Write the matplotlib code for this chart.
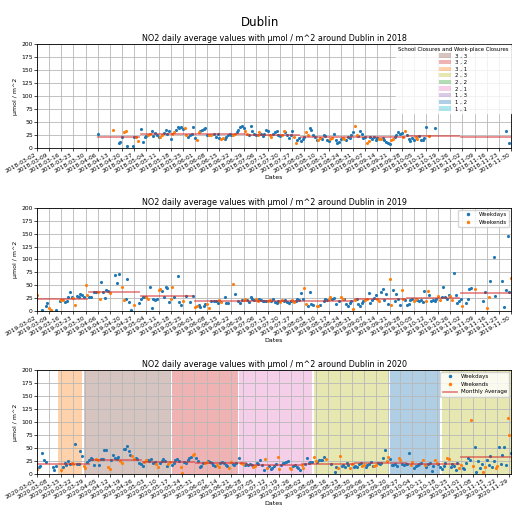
import numpy as np
import pandas as pd
import matplotlib
matplotlib.use('Agg')
import matplotlib.pyplot as plt
import matplotlib.dates as mdates
from matplotlib.patches import Patch

N = None

# daily NO2 values (umol / m^2), one entry per day, None = no data
no2_2018 = (
    [N] * 30  # Mar 2 - Mar 31
    + [N, N, N, N, N, 28, N, N, N, N, N, N, N, N, 35, N, N, 9, 12, 22, 30, 32, 5, N, N, 5, 22, 22, 14, N]
    + [36, 11, 22, 24, 26, 28, 32, 23, 29, 25, 22, 22, 25, 29, 35, 28, 32, 18, 28, 30, 35, 40, 38, 41, 36, 38, 26, 22, 25, 28, 40]
    + [20, 16, 30, 33, 35, 37, 38, 26, 25, 25, N, 27, 22, 27, 20, 18, 20, 18, 22, 25, 27, 25, 26, 27, 30, 35, 40, 42, 38, 33]
    + [28, 26, 42, 33, 28, 25, 26, 30, 27, 24, 28, 35, 32, 25, 22, 28, 30, 33, 26, 24, 26, 32, 30, 25, 20, 26, 32, 22, 10, 15, 20]
    + [14, 18, 22, 30, 26, 38, 35, 25, 22, 15, 16, 20, 18, 26, 24, 15, 14, 18, 20, 28, 16, 10, 12, 18, 20, 18, 15, 22, 20, 25, 30]
    + [42, 25, 24, 32, 28, 20, 22, 10, 14, 22, 18, 22, 15, 20, 17, 18, 20, 15, 12, 10, 7, 15, 18, 22, 25, 30, 28, 29, 22, 32]
    + [25, 18, 14, 20, 16, 22, 18, 24, 16, 15, 20, 40, N, 24, N, N, 38] + [N] * 14
    + [N] * 26 + [32, N, 9, N]
)
no2_2019 = (
    [32, N, N, 2, N, 10, 16, 6, 1, N, N, 2, N, 19, 21, 22, 18, 20, 28, 36, 27, 26, 11, 29, 28, 33, 31, 27, 50, 31]
    + [27, 27, N, 36, 36, 36, 24, 56, 36, 26, 40, 38, 35, N, N, 70, 55, 72, N, 46, 22, 23, 63, 18, 2, N, 11, N, N, 16]
    + [24, 27, 28, 27, 23, 47, 6, 24, 21, 23, 40, 42, 38, 28, 47, 44, 18, 24, 47, 28, N, 67, 18, 11, 20, N, 29, N, 18, N, 29]
    + [7, 9, 11, 8, N, 9, 14, 14, 6, 20, N, 20, 19, 16, 22, 18, N, 27, 16, 15, N, N, 52, 33, N, 20, 16, 22, 21, 23]
    + [21, 17, 28, 24, 21, 23, 20, 24, 21, 19, 20, 19, 20, 22, 20, 24, 18, 15, 20, 17, 22, 19, 21, 18, 16, 20, 22, 18, 20, 24, 22]
    + [34, 24, 44, 14, 9, 36, 14, 11, N, 9, 9, 11, N, 19, 23, 22, 24, 27, 23, 26, 14, N, 19, 27, 24, 23, 14, 9, 16, 20, 4]
    + [21, 23, 14, 9, 16, 20, 21, 24, 34, 16, 22, 26, 31, 24, 20, 36, 43, 22, 33, 14, 63, 12, 40, 20, 33, 24, 11, 40, 23, 22]
    + [11, 14, 21, 23, 20, 23, 22, 20, 21, 18, 39, 20, 39, 31, 20, 21, 19, 24, 29, 22, 28, 46, 28, 24, 31, 29, 22, 74, 31, 16, 20]
    + [23, 10, N, 16, 23, 42, 44, N, 43, N, N, N, N, 19, 36, 6, 28, 59, N, 105, 29, N, N, N, 58, 8, 40, 146, 37, 65]
)
no2_2020 = (
    [9, 13, 15, 40, 27, 23, N, N, N, 13, 8, 16, N, N, 7, 13, 22, 17, 25, 20, 21, 19, 58, 20, 19, 44, 35, 15, 11, 24, 27]
    + [31, 28, 17, 28, 27, 17, 29, 29, 46, 47, 13, 10, 27, 37, 31, 29, 33, 25, 22, 48, 49, 54, 44, 37, 35, 29, 31, 28, 21, 19]
    + [16, 23, 26, 26, 25, 29, 21, 24, 19, 14, 22, 25, 29, 25, 16, 20, 24, 18, 22, 26, 28, 25, 13, 1, 23, 21, 27, 30, 32, 36, 39]
    + [31, 25, 13, 16, 21, 22, 24, 25, 23, 21, 17, 16, 17, 13, 21, 24, 22, 18, 15, 11, 24, 20, 18, 21, N, 31, 22, 20, 18, 20]
    + [18, 20, 17, 13, 15, 22, 19, 27, 18, 8, 28, 12, 16, 9, 11, 16, 20, 33, 10, 18, 22, 22, 24, 25, 12, 10, 16, 18, 14, 11, 8]
    + [18, 12, 20, 30, 22, 24, 23, 33, 25, 24, 26, 27, 27, 32, 28, N, N, 19, N, 4, 14, 12, 34, 16, 18, 14, 22, 18, 12, 20, 14]
    + [16, 14, 19, 22, 16, 18, 14, 17, 19, 23, 16, 15, 17, 22, 19, 22, 30, 47, 25, 33, 28, 18, 17, 20, 16, 31, 26, 20, 18, 20]
    + [20, 40, 17, 23, 12, 15, 18, 20, 22, 27, 18, 14, 20, 22, 6, 16, 27, 22, 20, 14, 10, 16, 22, 30, 28, 14, 20, 15, 8, 21, 12]
    + [18, 12, 10, 22, 30, 26, 104, 16, 52, 3, 25, 11, 20, 3, 14, 26, 17, 35, 13, 25, 12, 15, 52, 20, 37, 51, 18, 107, 75, 40]
)

# monthly averages
months_2018 = ['2018-04', '2018-05', '2018-06', '2018-07', '2018-08', '2018-09', '2018-10', '2018-11']
monthly_2018 = [21, 28, 27, 26, 21, 22, 23, 21]
months_2019 = ['2019-03', '2019-04', '2019-05', '2019-06', '2019-07', '2019-08', '2019-09', '2019-10', '2019-11']
monthly_2019 = [23, 36, 30, 19, 19, 19, 23, 25, 34]
months_2020 = ['2020-03', '2020-04', '2020-05', '2020-06', '2020-07', '2020-08', '2020-09', '2020-10', '2020-11']
monthly_2020 = [18.6, 27, 23, 20.5, 16.7, 19, 21.7, 18.6, 32]

# closure levels (school , work-place)
closure_labels = ['3 , 3', '3 , 2', '3 , 1', '2 , 3', '2 , 2', '2 , 1', '1 , 3', '1 , 2', '1 , 1']
closure_colors = ['tab:brown', 'tab:red', 'tab:orange', 'tab:olive', 'tab:green',
                  'tab:pink', 'tab:purple', 'tab:blue', 'tab:cyan']
closure_starts_2020 = ['2020-03-13', '2020-03-28', '2020-05-18', '2020-06-26', '2020-08-08', '2020-09-21', '2020-10-21']
closure_ends_2020 = ['2020-03-27', '2020-05-17', '2020-06-25', '2020-08-07', '2020-09-20', '2020-10-20', '2020-11-30']
closure_levels_2020 = ['3 , 1', '3 , 3', '3 , 2', '2 , 1', '2 , 3', '1 , 2', '2 , 3']

years = [
    (2018, '2018-03-02', '2018-11-30', no2_2018, months_2018, monthly_2018),
    (2019, '2019-03-02', '2019-11-30', no2_2019, months_2019, monthly_2019),
    (2020, '2020-03-01', '2020-11-30', no2_2020, months_2020, monthly_2020),
]

fig = plt.figure(figsize=(5.21, 5.09), dpi=100)
fig.suptitle('Dublin', fontsize=8.5, y=0.968)
rects = [[0.071, 0.709, 0.91, 0.2046], [0.071, 0.389, 0.91, 0.2024], [0.071, 0.0688, 0.91, 0.2042]]
color_of = dict(zip(closure_labels, closure_colors))

for (year, start, end, vals, months, monthly), rect in zip(years, rects):
    ax = fig.add_axes(rect)
    s = pd.Series(np.array(vals, dtype=float), index=pd.date_range(start, periods=len(vals), freq='D'))
    s = s.dropna()
    weekend = s.index.dayofweek >= 5
    ax.plot(s.index[~weekend], s.values[~weekend], '.', color='tab:blue', markersize=2.5, label='Weekdays')
    ax.plot(s.index[weekend], s.values[weekend], '.', color='tab:orange', markersize=2.5, label='Weekends')

    first = s.index.min()
    for i, (m, v) in enumerate(zip(months, monthly)):
        m0 = max(pd.Timestamp(m + '-01'), first)
        m1 = pd.Timestamp(m + '-01') + pd.offsets.MonthEnd(0)
        ax.plot([m0, m1], [v, v], color='tab:red', alpha=0.55, lw=1.3,
                label='Monthly Average' if i == 0 else None)

    if year == 2020:
        for a, b, lev in zip(closure_starts_2020, closure_ends_2020, closure_levels_2020):
            ax.axvspan(pd.Timestamp(a), pd.Timestamp(b), color=color_of[lev], alpha=0.35, lw=0)

    ax.set_xlim(pd.Timestamp(start), pd.Timestamp(end))
    ax.set_ylim(0, 200)
    ax.set_yticks(np.arange(0, 201, 25))
    ax.set_xticks(pd.date_range(start, end, freq='7D'))
    ax.xaxis.set_major_formatter(mdates.DateFormatter('%Y-%m-%d'))
    ax.grid(True, color='#b8b8b8', lw=0.6)
    ax.tick_params(labelsize=4.3, length=2, width=0.5, pad=1)
    for lab in ax.get_xticklabels():
        lab.set_rotation(30)
        lab.set_ha('right')
    for sp in ax.spines.values():
        sp.set_linewidth(0.6)
    ax.set_title(f'NO2 daily average values with µmol / m^2 around Dublin in {year}', fontsize=5.8, pad=2)
    ax.set_xlabel('Dates', fontsize=4.5, labelpad=1)
    ax.set_ylabel('µmol / m^2', fontsize=4.5, labelpad=2)

    if year == 2018:
        handles = [Patch(facecolor=c, alpha=0.35, label=l) for l, c in zip(closure_labels, closure_colors)]
        ax.legend(handles=handles, loc='upper right', fontsize=3.9, title='School Closures and Work-place Closures',
                  title_fontsize=3.9, labelspacing=0.3, handlelength=2.2, handleheight=0.8,
                  borderaxespad=0.1, fancybox=False, edgecolor='white')
    elif year == 2019:
        h, l = ax.get_legend_handles_labels()
        ax.legend(h[:2], l[:2], loc='upper right', fontsize=4, markerscale=1.2, labelspacing=0.5,
                  handlelength=2.5, borderaxespad=0.3)
    else:
        h, l = ax.get_legend_handles_labels()
        ax.legend(h[:3], l[:3], loc='upper right', fontsize=4, markerscale=1.2, labelspacing=0.5,
                  handlelength=2.5, borderaxespad=0.3)

plt.savefig('out.png', dpi=100)
